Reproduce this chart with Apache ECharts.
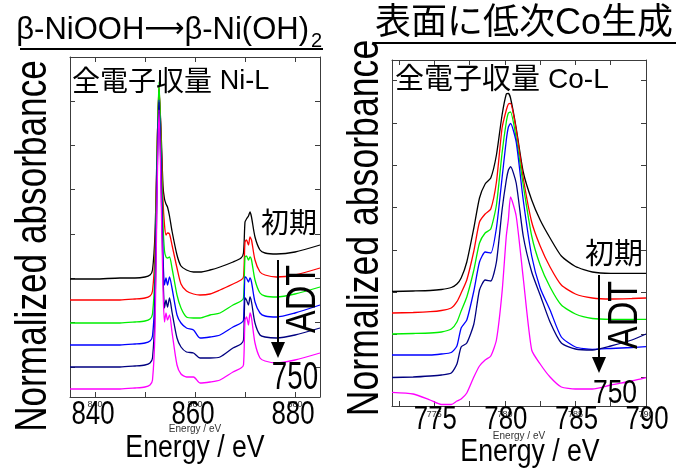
<!DOCTYPE html>
<html>
<head>
<meta charset="utf-8">
<script src="https://cdn.jsdelivr.net/npm/echarts@6/dist/echarts.min.js"></script>
<style>
html, body { margin: 0; padding: 0; background: #fff; }
#main { width: 677px; height: 471px; }
</style>
</head>
<body>
<div id="main"></div>
<script>
// Ni-L edge, left panel (energy in eV, curve heights above each own baseline)
var niEnergy = [835, 840, 845, 848, 850, 851, 851.5, 852, 852.4, 852.8, 853.2, 853.6, 853.9, 854.2, 854.5, 854.9, 855.4, 856.4, 857.2, 858.3, 859.7, 861, 863, 865, 867.6, 869.2, 869.7, 870, 870.3, 870.7, 871, 871.3, 872, 873, 874, 876.3, 880, 885];
var niInit = [0, 0, 1, 1, 2, 4, 9, 45, 125, 189, 150, 93, 80, 75, 72, 63, 48, 24, 13, 9, 7, 7, 9, 12, 17, 21, 26, 57, 60, 63, 67, 62, 42, 29, 26, 25, 27, 34];
var niRed = [0, 0, 0, 1, 2, 4, 9, 48, 145, 214, 165, 100, 75, 65, 67, 66, 55, 32, 16, 9, 6, 5, 6, 10, 16, 20, 23, 58, 60, 55, 63, 60, 40, 28, 25, 23, 25, 32];
var niGreen = [0, 0, 0, 1, 2, 4, 9, 52, 165, 241, 180, 100, 72, 66, 65, 66, 55, 28, 15, 6, 5, 5, 8, 10, 18, 22, 25, 66, 67, 63, 66, 63, 43, 30, 27, 26, 29, 36];
var niBlue = [0, 0, 0, 1, 2, 4, 9, 52, 170, 245, 180, 90, 60, 67, 60, 68, 57, 30, 22, 17, 15, 7, 8, 10, 18, 22, 25, 68, 67, 63, 67, 63, 43, 32, 29, 28, 32, 40];
var niNavy = [0, 0, 0, 1, 2, 4, 9, 55, 180, 265, 190, 95, 59, 67, 60, 69, 55, 29, 20, 15, 14, 9, 9, 10, 19, 23, 27, 69, 67, 62, 70, 65, 44, 32, 30, 29, 32, 39];
var niADT750 = [0, 0, 0, 1, 2, 4, 9, 58, 190, 279, 200, 100, 67, 76, 69, 74, 57, 24, 15, 12, 12, 6, 7, 9, 17, 21, 24, 69, 72, 64, 76, 71, 46, 31, 28, 26, 29, 36];
var niShift = [118, 97, 74, 52, 30, 8];

// Co-L edge, right panel
var coEnergy = [772, 773.5, 774.7, 775.5, 776.2, 776.6, 776.9, 777.3, 777.8, 778.2, 778.6, 779.0, 779.4, 779.8, 780.1, 780.25, 780.4, 780.8, 781.3, 781.9, 782.5, 783.2, 784, 785, 786.2, 787.5, 789, 790];
var coInit = [114.5, 115, 115.5, 116.5, 118.5, 122, 128, 144, 178, 208, 222, 228, 251, 291, 312, 312.5, 308, 278, 234, 206, 186, 168, 150, 139.5, 134, 132.7, 132.7, 132.7];
var coRed = [93, 93.5, 94.3, 95.5, 98, 104.3, 113, 126, 155, 184, 192, 197, 224, 278, 296, 302, 302.5, 276, 228, 184, 160, 139, 121, 112, 108, 107, 107.5, 108];
var coGreen = [72, 72.5, 73, 74, 77, 84, 95, 109, 136, 163, 173, 177, 201, 253, 284, 293, 294, 268, 221, 170, 141, 119, 101, 92, 87.5, 86.7, 86.7, 86.7];
var coBlue = [51, 51, 51, 52, 53.5, 60, 78, 86, 115, 144, 154, 153, 178, 228, 266, 279, 282.7, 264, 206, 150, 118, 96, 69, 59, 56.7, 57.5, 58.5, 59.3];
var coNavy = [28.5, 29, 30, 31, 33, 42, 59, 63, 82, 116, 126, 125, 144, 196, 226, 236, 239.3, 223, 170, 134, 111, 84, 63, 57, 56, 60, 66, 72];
var coADT750 = [13.7, 12, 6, 1.5, 1.5, 5, 7, 13, 29, 40, 46, 50, 66, 114, 170, 187, 209, 190, 128, 56, 42, 29, 19, 17, 17, 21, 25, 28.3];

var niLabels = [840, 860, 880];
var coLabels = [775, 780, 785, 790];
var lineColors = ["#000000", "#ff0000", "#00ee00", "#0000ff", "#000080", "#ff00ff"];

var lat = "'Liberation Sans', Arial, sans-serif";
var cjk = "'Liberation Sans', 'Noto Sans CJK JP', sans-serif";
var frame = "#3c3c3c";

var myChart = echarts.init(document.getElementById("main"));

// tick-only axis (frame side with inward ticks)
function tickAxis(grid, pos, min, max, split, extra) {
  var ax = {
    gridIndex: grid,
    type: "value",
    position: pos,
    min: min,
    max: max,
    splitNumber: split,
    axisLine: { show: true, lineStyle: { color: frame, width: 1 } },
    axisTick: { show: true, inside: true, length: 5, lineStyle: { color: frame } },
    axisLabel: { show: false },
    splitLine: { show: false }
  };
  return Object.assign(ax, extra || {});
}
function hiddenAxis(grid, min, max) {
  return { gridIndex: grid, type: "value", min: min, max: max, show: false, splitLine: { show: false } };
}

var niCurves = [niInit, niRed, niGreen, niBlue, niNavy, niADT750];
var coCurves = [coInit, coRed, coGreen, coBlue, coNavy, coADT750];
var series = [];
niCurves.forEach(function (c, k) {
  series.push({
    type: "line",
    xAxisIndex: 0,
    yAxisIndex: 0,
    showSymbol: false,
    smooth: 0.25,
    lineStyle: { color: lineColors[k], width: 1.3 },
    data: niEnergy.map(function (e, i) { return [e, c[i] + niShift[k]]; })
  });
});
coCurves.forEach(function (c, k) {
  series.push({
    type: "line",
    xAxisIndex: 3,
    yAxisIndex: 3,
    showSymbol: false,
    smooth: 0.2,
    lineStyle: { color: lineColors[k], width: 1.3 },
    data: coEnergy.map(function (e, i) { return [e, c[i]]; })
  });
});

var smallName = { fontSize: 10, color: "#333", fontFamily: lat };

var option = {
  animation: false,
  backgroundColor: "#fff",
  grid: [
    { left: 70, top: 57, width: 250, height: 340 },
    { left: 392, top: 60, width: 254, height: 346 }
  ],
  xAxis: [
    hiddenAxis(0, 835, 885),
    tickAxis(0, "bottom", 835, 885, 5, {
      axisLabel: {
        show: true, margin: 3, fontSize: 9, color: "#333", fontFamily: lat,
        formatter: function (v) { return v % 20 === 0 ? String(v) : ""; }
      },
      name: "Energy / eV", nameLocation: "middle", nameGap: 27, nameTextStyle: smallName
    }),
    tickAxis(0, "top", 835, 885, 5),
    hiddenAxis(1, 772, 790),
    // ticks every 2.5 eV (axis units = eV / 2.5)
    tickAxis(1, "bottom", 308.8, 316, 7, {
      axisLabel: {
        show: true, margin: 4, fontSize: 9, color: "#333", fontFamily: lat, showMaxLabel: true,
        formatter: function (v) { return Math.abs(v % 2) < 1e-6 ? String(v * 2.5) : ""; }
      },
      name: "Energy / eV", nameLocation: "middle", nameGap: 25, nameTextStyle: smallName
    }),
    tickAxis(1, "top", 308.8, 316, 7)
  ],
  yAxis: [
    hiddenAxis(0, 0, 340),
    tickAxis(0, "left", 0.318, 7.99, 8),
    tickAxis(0, "right", 0.318, 7.99, 8),
    hiddenAxis(1, 0, 346),
    tickAxis(1, "left", 0.314, 8.49, 8),
    tickAxis(1, "right", 0.314, 8.49, 8)
  ],
  series: series
};
myChart.setOption(option);

// text overlays
function txt(x, y, text, size, opt) {
  opt = opt || {};
  return {
    type: "text",
    x: x,
    y: y,
    z: 50,
    rotation: opt.rotation || 0,
    scaleX: opt.scaleX || 1,
    style: {
      text: text,
      fontSize: size,
      fontFamily: opt.font || lat,
      fill: "#000",
      align: opt.align || "center",
      verticalAlign: "middle",
      rich: opt.rich
    }
  };
}
function arrow(x, y1, y2) {
  return [
    { type: "line", z: 50, shape: { x1: x, y1: y1, x2: x, y2: y2 - 14 }, style: { stroke: "#000", lineWidth: 2 } },
    { type: "polygon", z: 50, shape: { points: [[x - 7, y2 - 16], [x + 7, y2 - 16], [x, y2]] }, style: { fill: "#000" } }
  ];
}

var g = [];
g.push(txt(309, 30, "{a|β-NiOOH}{r|⟶}{a|β-Ni(OH)}", 31, {
  align: "right",
  rich: {
    a: { fontSize: 31, fontFamily: lat },
    r: { fontSize: 28, fontFamily: "'DejaVu Sans', sans-serif" }
  }
}));
g.push(txt(311, 41, "2", 20, { align: "left" }));
g.push({ type: "line", z: 50, shape: { x1: 20, y1: 49, x2: 323, y2: 49 }, style: { stroke: "#000", lineWidth: 2 } });
g.push(txt(524, 24, "表面に低次Co生成", 36, { font: cjk }));
g.push({ type: "line", z: 50, shape: { x1: 373, y1: 43, x2: 676, y2: 43 }, style: { stroke: "#000", lineWidth: 2 } });

g.push(txt(34, 246, "Normalized absorbance", 44, { rotation: Math.PI / 2, scaleX: 0.8 }));
g.push(txt(366, 228, "Normalized absorbance", 44, { rotation: Math.PI / 2, scaleX: 0.81 }));
g.push(txt(195, 448, "Energy / eV", 31, { scaleX: 0.86 }));
g.push(txt(530, 452, "Energy / eV", 31, { scaleX: 0.86 }));

niLabels.forEach(function (v) {
  g.push(txt(myChart.convertToPixel({ xAxisIndex: 0 }, v) - 2, 415, String(v), 34, { scaleX: 0.76 }));
});
coLabels.forEach(function (v) {
  g.push(txt(myChart.convertToPixel({ xAxisIndex: 3 }, v) + 1, 420, String(v), 34, { scaleX: 0.76 }));
});

var head = function (x, y, lab, s1, s2) {
  return txt(x, y, "{c|全電子収量} {l|" + lab + "}", s1, {
    align: "left",
    rich: {
      c: { fontSize: s1, fontFamily: "'Noto Sans CJK JP', sans-serif", lineHeight: 34 },
      l: { fontSize: s2, fontFamily: lat, lineHeight: 34, padding: [4, 0, 0, 0] }
    }
  });
};
g.push(head(72, 80, "Ni-L", 28, 27));
g.push(head(395, 78, "Co-L", 29, 28));

g.push(txt(289, 225, "初期", 28, { font: cjk }));
g.push(txt(614, 256, "初期", 29, { font: cjk }));
g = g.concat(arrow(278, 260, 358));
g = g.concat(arrow(599, 275, 373));
g.push(txt(303, 299, "ADT", 42, { rotation: Math.PI / 2, scaleX: 0.81 }));
g.push(txt(625, 315, "ADT", 42, { rotation: Math.PI / 2, scaleX: 0.81 }));
g.push(txt(295, 379, "750", 38, { scaleX: 0.73 }));
g.push(txt(615, 394, "750", 34, { scaleX: 0.78 }));

myChart.setOption({ graphic: g });

window.addEventListener("resize", function () {
  myChart.resize();
});
</script>
</body>
</html>
